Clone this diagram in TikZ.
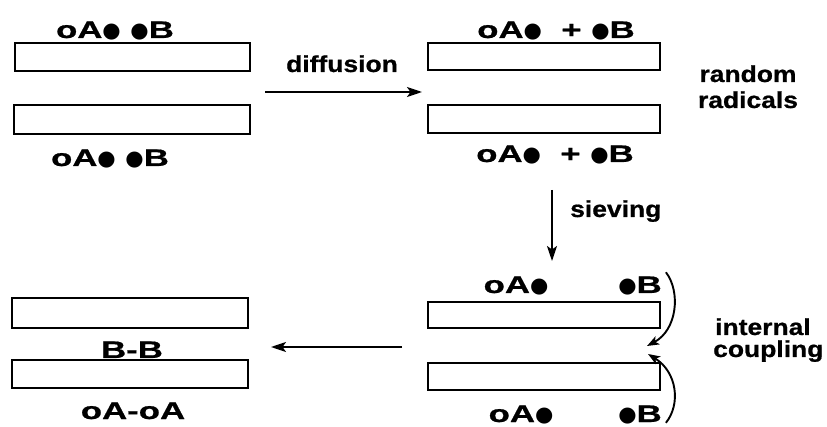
\documentclass[tikz,border=0pt]{standalone}
\usepackage{fontspec}
\setmainfont{Liberation Sans}
\newfontfamily\wordfont[FakeStretch=1.15,BoldFeatures={FakeBold=0.8}]{Liberation Sans}
\newfontfamily\chemfont[FakeStretch=1.45,BoldFeatures={FakeBold=0.8}]{Liberation Sans}
\newfontfamily\dotfont{DejaVu Sans}
\usetikzlibrary{arrows.meta}
% radical dot
\newcommand\rdot{{\dotfont\fontsize{21pt}{21pt}\selectfont\raisebox{0.5pt}{●}}}
\tikzset{
  strip/.style={draw, line width=2.8pt, inner sep=0pt, outer sep=0pt},
  chem/.style={anchor=base, inner sep=0pt, font=\chemfont\bfseries\fontsize{24pt}{26pt}\selectfont},
  word/.style={inner sep=0pt, font=\wordfont\bfseries\fontsize{23pt}{25pt}\selectfont},
  flow/.style={line width=1.9pt, -{Stealth[length=15pt,width=10pt,inset=3.5pt]}},
  hop/.style={line width=1.9pt, -{Stealth[length=12pt,width=9pt,inset=3pt]}},
}
\begin{document}
\begin{tikzpicture}[x=1pt,y=-1pt]
\useasboundingbox (0,0) rectangle (827,427);

% initial pair of strips
\node[strip, minimum width=235pt, minimum height=28pt] (tl1) at (132.5,57) {};
\node[strip, minimum width=236pt, minimum height=29pt] (tl2) at (132,119.5) {};
\node[chem] (tlt) at (115,38) {oA\rdot\ \rdot B};
\node[chem] (tlb) at (110,166) {oA\rdot\ \rdot B};

% after diffusion
\node[strip, minimum width=232pt, minimum height=27pt] (tr1) at (544,56.5) {};
\node[strip, minimum width=232pt, minimum height=28pt] (tr2) at (544,119) {};
\node[chem] (trt) at (556,38) {oA\rdot\ \ + \rdot B};
\node[chem] (trb) at (555,162) {oA\rdot\ \ + \rdot B};
\node[word, anchor=base] (rnd) at (748,82) {random};
\node[word, anchor=base] (rad) at (748,108) {radicals};

% after sieving
\node[strip, minimum width=232pt, minimum height=26pt] (br1) at (544,315) {};
\node[strip, minimum width=232pt, minimum height=27pt] (br2) at (544,376.5) {};
\node[chem] (brta) at (516,293) {oA\rdot};
\node[chem] (brtb) at (640,293) {\rdot B};
\node[chem] (brba) at (521,422) {oA\rdot};
\node[chem] (brbb) at (640,422) {\rdot B};
\node[word, anchor=base west] (int) at (715,335) {internal};
\node[word, anchor=base west] (cpl) at (713,357) {coupling};

% coupled product
\node[strip, minimum width=236pt, minimum height=30pt] (bl1) at (130,313) {};
\node[strip, minimum width=236pt, minimum height=28pt] (bl2) at (130,374) {};
\node[chem] (bb) at (132,358) {B-B};
\node[chem] (aa) at (133,419) {oA-oA};

% process arrows
\coordinate (d0) at (265,92);
\coordinate (d1) at (422,92);
\draw[flow] (d0) -- (d1);
\node[word, anchor=base] (dif) at (342,72) {diffusion};

\coordinate (s0) at (552,190);
\coordinate (s1) at (552,261);
\draw[flow] (s0) -- (s1);
\node[word, anchor=base west] (sv) at (570,217) {sieving};

\coordinate (c0) at (402,347);
\coordinate (c1) at (271,347);
\draw[flow] (c0) -- (c1);

% internal coupling hops
\coordinate (m) at (647,346);
\coordinate (n) at (648,354);
\draw[hop] (brtb.north east) ++(4,-4) .. controls (681,292) and (677,330) .. (m);
\draw[hop] (brbb.east) ++(4,8) .. controls (681,404) and (677,372) .. (n);
\end{tikzpicture}
\end{document}
